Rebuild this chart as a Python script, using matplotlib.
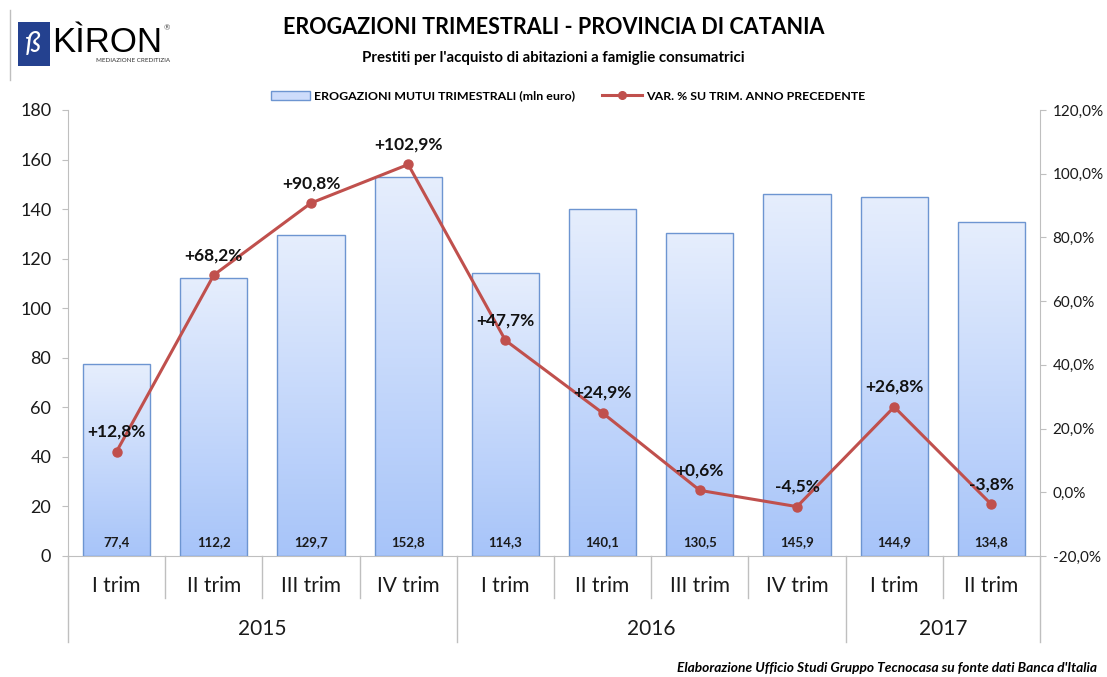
import matplotlib
matplotlib.use("Agg")
import matplotlib.pyplot as plt
import numpy as np
from matplotlib.colors import LinearSegmentedColormap
from matplotlib.lines import Line2D
from matplotlib.patches import Rectangle, Patch
import matplotlib.transforms as mtransforms

plt.rcParams["font.family"] = ["Lato", "DejaVu Sans"]

quarters = ["I trim", "II trim", "III trim", "IV trim",
            "I trim", "II trim", "III trim", "IV trim",
            "I trim", "II trim"]
years = ["2015", "2016", "2017"]
year_counts = [4, 4, 2]
erogazioni = [77.4, 112.2, 129.7, 152.8, 114.3, 140.1, 130.5, 145.9, 144.9, 134.8]
var_pct = [12.8, 68.2, 90.8, 102.9, 47.7, 24.9, 0.6, -4.5, 26.8, -3.8]

BAR_TOP = "#e6eefd"
BAR_BOT = "#a7c4f9"
BAR_EDGE = "#6d95d1"
LINE_COL = "#c0504d"
GREY = "#bfbfbf"

fig = plt.figure(figsize=(11.07, 6.77), dpi=100)
ax = fig.add_axes([68 / 1107, 1 - 556 / 677, 972 / 1107, 446 / 677])
ax2 = ax.twinx()

x = np.arange(len(erogazioni))
width = 0.69
cmap = LinearSegmentedColormap.from_list("bar", [BAR_BOT, BAR_TOP])
grad = np.linspace(0, 1, 256).reshape(-1, 1)
bars = ax.bar(x, erogazioni, width, color="none", edgecolor=BAR_EDGE, linewidth=1.0, zorder=3)
for b in bars:
    x0, y0 = b.get_x(), b.get_y()
    w, h = b.get_width(), b.get_height()
    im = ax.imshow(grad, cmap=cmap, origin="lower", aspect="auto",
                   extent=[x0, x0 + w, y0, y0 + h], zorder=2)
    im.set_clip_path(b)

for xi, v in zip(x, erogazioni):
    ax.annotate(f"{v:.1f}".replace(".", ","), (xi, 0), xytext=(0, 14),
                textcoords="offset pixels", ha="center", va="center",
                fontsize=9.5, fontweight="bold", color="#1a1a1a", zorder=5)

ax.set_xlim(-0.5, len(x) - 0.5)
ax.set_ylim(0, 180)
ax.set_yticks(np.arange(0, 181, 20))
ax.tick_params(axis="y", labelsize=13, length=4, color=GREY, pad=8, labelcolor="#1a1a1a")
ax.set_xticks([])
for s in ["top", "right"]:
    ax.spines[s].set_visible(False)
ax.spines["left"].set_color(GREY)
ax.spines["bottom"].set_color(GREY)

ax2.plot(x, var_pct, color=LINE_COL, linewidth=2.2, marker="o", markersize=6.5, zorder=6)
ax2.set_ylim(-20, 120)
ax2.set_yticks(np.arange(-20, 121, 20))
ax2.set_yticklabels([f"{v:.1f}%".replace(".", ",") for v in np.arange(-20, 121, 20)])
ax2.tick_params(axis="y", labelsize=11, length=4, color=GREY, pad=5, labelcolor="#1a1a1a")
for s in ["top", "left", "bottom"]:
    ax2.spines[s].set_visible(False)
ax2.spines["right"].set_color(GREY)

for xi, v in zip(x, var_pct):
    lab = ("+" if v >= 0 else "") + f"{v:.1f}%".replace(".", ",")
    ax2.annotate(lab, (xi, v), xytext=(0, 20), textcoords="offset pixels",
                 ha="center", va="center", fontsize=12.5, fontweight="bold",
                 color="#111111", zorder=7)

# multi-level category axis
trans = mtransforms.blended_transform_factory(ax.transData, ax.transAxes)
for xi, q in zip(x, quarters):
    ax.text(xi, -0.067, q, transform=trans, ha="center", va="center",
            fontsize=15, color="#1a1a1a")
bounds = np.cumsum([0] + year_counts) - 0.5
for b in np.arange(-0.5, len(x), 1.0):
    depth = -0.193 if np.any(np.isclose(bounds, b)) else -0.094
    ax.plot([b, b], [0, depth], transform=trans, color=GREY, linewidth=1.0, clip_on=False)
for i, yr in enumerate(years):
    ax.text((bounds[i] + bounds[i + 1]) / 2, -0.163, yr, transform=trans,
            ha="center", va="center", fontsize=15, color="#1a1a1a")

# titles
fig.text(0.5, 1 - 27 / 677, "EROGAZIONI TRIMESTRALI - PROVINCIA DI CATANIA",
         ha="center", va="center", fontsize=15.5, fontweight="bold")
fig.text(0.5, 1 - 58 / 677, "Prestiti per l'acquisto di abitazioni a famiglie consumatrici",
         ha="center", va="center", fontsize=10.8, fontweight="bold")

handles = [Patch(facecolor="#cddcfb", edgecolor=BAR_EDGE, linewidth=1.0),
           Line2D([0], [0], color=LINE_COL, linewidth=2.2, marker="o", markersize=5.5)]
labels = ["EROGAZIONI MUTUI TRIMESTRALI (mln euro)", "VAR. % SU TRIM. ANNO PRECEDENTE"]
fig.legend(handles, labels, loc="center", bbox_to_anchor=(0.513, 1 - 96 / 677), ncol=2,
           frameon=False, prop={"size": 8.9, "weight": "bold"}, columnspacing=2.2,
           handlelength=3.2, handletextpad=0.3)

fig.text(1097 / 1107, 1 - 668 / 677,
         "Elaborazione Ufficio Studi Gruppo Tecnocasa su fonte dati Banca d'Italia",
         ha="right", va="center", fontsize=9.9, fontweight="bold", style="italic")

# logo
fig.add_artist(Line2D([10 / 1107, 10 / 1107], [1 - 10 / 677, 1 - 80 / 677],
                      color=GREY, linewidth=1.0))
fig.add_artist(Rectangle((18 / 1107, 1 - 66 / 677), 32 / 1107, 44 / 677,
                         facecolor="#24418f", edgecolor="none"))
fig.text(33 / 1107, 1 - 44 / 677, "ß", ha="center", va="center", fontsize=20,
         color="white", style="italic")
fig.text(52 / 1107, 1 - 42 / 677, "KÌRON", ha="left", va="center", fontsize=25,
         color="black", family=["Liberation Sans", "DejaVu Sans"])
fig.text(164 / 1107, 1 - 28 / 677, "®", ha="left", va="center", fontsize=5.5, color="#555555")
fig.text(96 / 1107, 1 - 61 / 677, "MEDIAZIONE CREDITIZIA", ha="left", va="center",
         fontsize=4.5, color="#333333")

fig.savefig("out.png", dpi=100)
